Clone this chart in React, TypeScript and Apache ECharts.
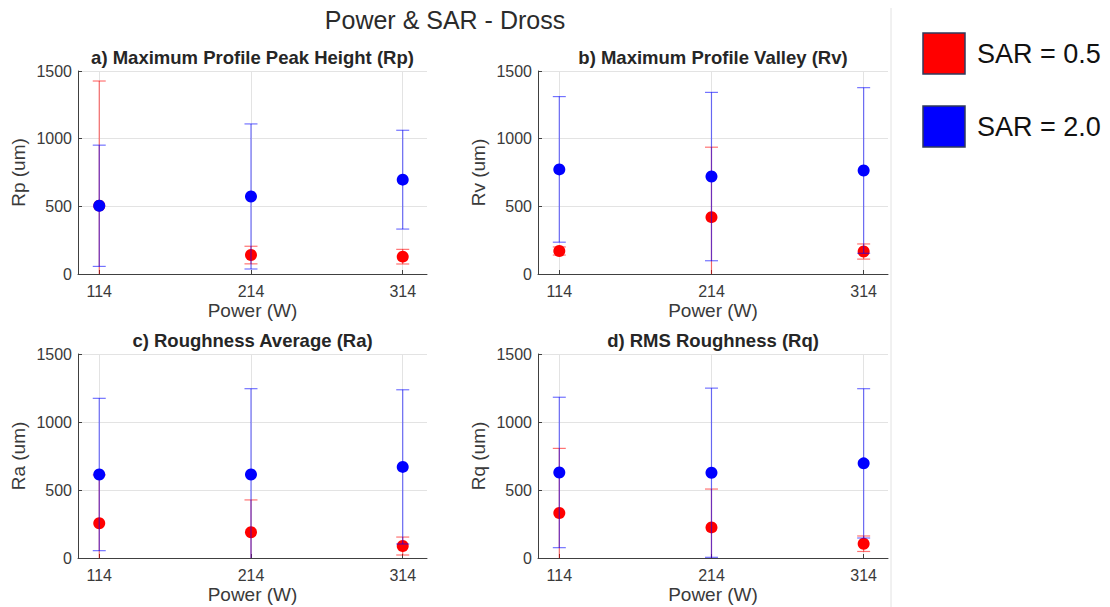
import React, { useEffect, useRef } from "react";
import * as echarts from "echarts";

// Laser power settings (W)
const powers = [114, 214, 314];
const yTicks = [0, 500, 1000, 1500];

// Means and half-widths of the error bars (um), SAR = 0.5 (red) and SAR = 2.0 (blue)
const rpRedMean = [505, 140, 128];
const rpRedErr = [921, 65, 54];
const rpBlueMean = [504, 573, 697];
const rpBlueErr = [448, 536, 365];

const rvRedMean = [170, 420, 166];
const rvRedErr = [30, 517, 56];
const rvBlueMean = [773, 720, 765];
const rvBlueErr = [538, 622, 612];

const raRedMean = [255, 189, 88];
const raRedErr = [356, 238, 66];
const raBlueMean = [614, 614, 670];
const raBlueErr = [560, 631, 567];

const rqRedMean = [331, 225, 105];
const rqRedErr = [475, 282, 57];
const rqBlueMean = [629, 627, 696];
const rqBlueErr = [553, 622, 549];

const panelTitles = [
  "a) Maximum Profile Peak Height (Rp)",
  "b) Maximum Profile Valley (Rv)",
  "c) Roughness Average (Ra)",
  "d) RMS Roughness (Rq)",
];
const yNames = ["Rp (um)", "Rv (um)", "Ra (um)", "Rq (um)"];
const xName = "Power (W)";
const mainTitle = "Power & SAR - Dross";
const legendLabels = ["SAR = 0.5", "SAR = 2.0"];

const panels = [
  { redMean: rpRedMean, redErr: rpRedErr, blueMean: rpBlueMean, blueErr: rpBlueErr },
  { redMean: rvRedMean, redErr: rvRedErr, blueMean: rvBlueMean, blueErr: rvBlueErr },
  { redMean: raRedMean, redErr: raRedErr, blueMean: raBlueMean, blueErr: raBlueErr },
  { redMean: rqRedMean, redErr: rqRedErr, blueMean: rqBlueMean, blueErr: rqBlueErr },
];

const grids = [
  { left: 78, top: 71, width: 349, height: 203 },
  { left: 538, top: 71, width: 350, height: 203 },
  { left: 78, top: 354, width: 349, height: 204 },
  { left: 538, top: 354, width: 350, height: 204 },
];

const RED = "#ff0000";
const BLUE = "#0000ff";
const FONT = "Liberation Sans, Arial, sans-serif";

function errorBarSeries(idx: number, means: number[], errs: number[], color: string, z: number) {
  return {
    type: "custom",
    xAxisIndex: idx,
    yAxisIndex: idx,
    clip: true,
    z,
    silent: true,
    data: powers.map((p, i) => [p, means[i] - errs[i], means[i] + errs[i]]),
    renderItem: (params: any, api: any) => {
      const x = api.value(0);
      const top = api.coord([x, api.value(2)]);
      const bot = api.coord([x, api.value(1)]);
      const w = 6.5;
      const style = { stroke: color, lineWidth: 1.2, opacity: 0.55 };
      return {
        type: "group",
        children: [
          { type: "line", shape: { x1: top[0], y1: top[1], x2: bot[0], y2: bot[1] }, style },
          { type: "line", shape: { x1: top[0] - w, y1: top[1], x2: top[0] + w, y2: top[1] }, style },
          { type: "line", shape: { x1: bot[0] - w, y1: bot[1], x2: bot[0] + w, y2: bot[1] }, style },
        ],
      };
    },
  };
}

function markerSeries(idx: number, means: number[], color: string, z: number) {
  return {
    type: "scatter",
    xAxisIndex: idx,
    yAxisIndex: idx,
    z,
    silent: true,
    symbol: "circle",
    symbolSize: 12,
    itemStyle: { color, opacity: 1 },
    data: powers.map((p, i) => [p, means[i]]),
  };
}

export default function App() {
  const ref = useRef<HTMLDivElement>(null);

  useEffect(() => {
    if (!ref.current) return;
    const chart = echarts.init(ref.current, null, { renderer: "svg" });

    const gridLine = { show: true, lineStyle: { color: "#e3e3e3", width: 1 } };
    const tickText = { color: "#3a3a3a", fontSize: 16, fontFamily: FONT };
    const nameText = { color: "#3a3a3a", fontSize: 19, fontFamily: FONT };

    const xAxis = grids.map((_, i) => ({
      type: "value",
      gridIndex: i,
      min: 100,
      max: 330,
      name: xName,
      nameLocation: "middle",
      nameGap: 27,
      nameTextStyle: nameText,
      axisLine: { show: true, lineStyle: { color: "#404040", width: 1 } },
      axisTick: { show: true, inside: true, length: 4, customValues: powers, lineStyle: { color: "#404040" } },
      axisLabel: { ...tickText, margin: 9, customValues: powers, formatter: (v: number) => String(v) },
      splitLine: gridLine,
    }));

    const yAxis = grids.map((_, i) => ({
      type: "value",
      gridIndex: i,
      min: 0,
      max: 1500,
      interval: 500,
      name: yNames[i],
      nameLocation: "middle",
      nameGap: 50,
      nameTextStyle: nameText,
      axisLine: { show: true, lineStyle: { color: "#404040", width: 1 } },
      axisTick: { show: true, inside: true, length: 4, lineStyle: { color: "#404040" } },
      axisLabel: { ...tickText, margin: 6, customValues: yTicks, formatter: (v: number) => String(v) },
      splitLine: gridLine,
    }));

    const series: any[] = [];
    panels.forEach((p, i) => {
      series.push(errorBarSeries(i, p.redMean, p.redErr, RED, 2));
      series.push(markerSeries(i, p.redMean, RED, 3));
      series.push(errorBarSeries(i, p.blueMean, p.blueErr, BLUE, 4));
      series.push(markerSeries(i, p.blueMean, BLUE, 5));
    });

    const titles = [
      {
        text: mainTitle,
        left: 445,
        top: 7,
        textAlign: "center",
        padding: 0,
        textStyle: { color: "#2b2b2b", fontSize: 25, fontWeight: "normal", fontFamily: FONT },
      },
      ...panelTitles.map((t, i) => ({
        text: t,
        left: grids[i].left + grids[i].width / 2,
        top: grids[i].top - 23,
        textAlign: "center",
        padding: 0,
        textStyle: { color: "#262626", fontSize: 18.5, fontWeight: "bold", fontFamily: FONT },
      })),
    ];

    const legendColors = [RED, BLUE];
    const legendTops = [33, 106];
    const graphic: any[] = [
      {
        type: "line",
        shape: { x1: 891, y1: 8, x2: 891, y2: 607 },
        style: { stroke: "#e2e2e2", lineWidth: 1 },
      },
    ];
    legendLabels.forEach((lbl, i) => {
      graphic.push({
        type: "rect",
        shape: { x: 923, y: legendTops[i], width: 42, height: 41 },
        style: { fill: legendColors[i], stroke: "#2f3a5c", lineWidth: 1.5 },
      });
      graphic.push({
        type: "text",
        x: 977,
        y: legendTops[i] + 21,
        style: {
          text: lbl,
          fill: "#111",
          fontSize: 27,
          fontFamily: FONT,
          verticalAlign: "middle",
          align: "left",
        },
      });
    });

    chart.setOption({
      animation: false,
      backgroundColor: "#ffffff",
      title: titles,
      grid: grids,
      xAxis,
      yAxis,
      series,
      graphic,
    });

    return () => chart.dispose();
  }, []);

  return (
    <div
      ref={ref}
      style={{ position: "fixed", left: 0, top: 0, width: 1110, height: 607 }}
    />
  );
}
